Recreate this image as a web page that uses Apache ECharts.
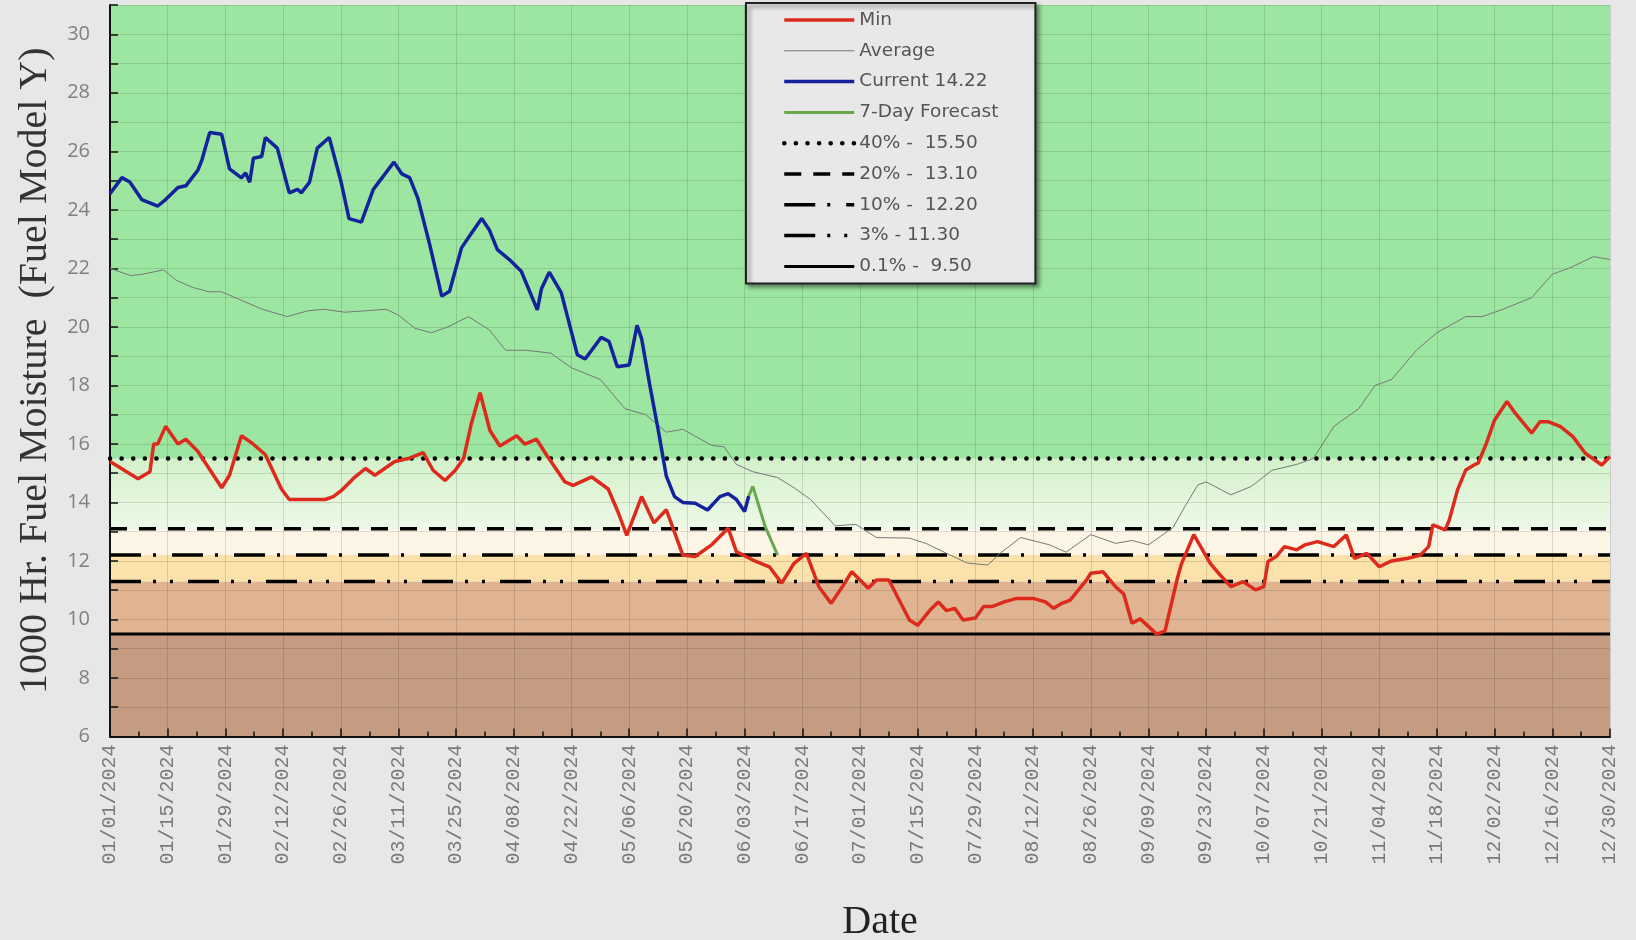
<!DOCTYPE html>
<html>
<head>
<meta charset="utf-8">
<title>1000 Hr. Fuel Moisture</title>
<script src="https://cdn.jsdelivr.net/npm/echarts@6/dist/echarts.min.js"></script>
<style>
  html, body { margin: 0; padding: 0; background: #e8e7e7; }
  #chart { width: 1636px; height: 940px; }
</style>
</head>
<body>
<div id="chart"></div>
<script>
// x = days since 01/01/2024, y = fuel moisture (%)
const minPoints = [
  [0, 15.4], [6.8, 14.81], [9.7, 15.05], [10.6, 16.0], [11.6, 16.0], [13.5, 16.6], [16.5, 16.0],
  [18.4, 16.16], [21.3, 15.75], [27.1, 14.5], [29, 14.93], [30, 15.4], [31.9, 16.28], [34.8, 15.99],
  [37.7, 15.63], [41.6, 14.46], [43.5, 14.1], [52.2, 14.1], [54.2, 14.2], [56.1, 14.4], [59, 14.81],
  [62, 15.16], [64.3, 14.93], [69.1, 15.4], [72.4, 15.5], [76, 15.7], [78.4, 15.1], [81.3, 14.75],
  [83.8, 15.1], [85.8, 15.5], [87.7, 16.7], [89.8, 17.75], [92.2, 16.46], [94.6, 15.93], [98.7, 16.28],
  [100.7, 15.99], [103.5, 16.16], [105.9, 15.63], [110.4, 14.7], [112.4, 14.58], [116.9, 14.87],
  [120.9, 14.46], [123.4, 13.63], [125.4, 12.87], [129, 14.2], [132, 13.3], [135, 13.75], [139, 12.2],
  [142, 12.15], [146, 12.55], [150, 13.12], [152, 12.32], [156, 12.03], [160, 11.8], [163, 11.24],
  [166, 11.92], [169, 12.26], [172, 11.12], [175, 10.55], [178, 11.18], [180, 11.63], [184, 11.07],
  [186, 11.35], [189, 11.35], [194, 9.98], [196, 9.8], [199, 10.32], [201, 10.6], [203, 10.3],
  [205, 10.38], [207, 9.98], [210, 10.05], [212, 10.44], [214, 10.44], [217, 10.6], [220, 10.72],
  [224, 10.72], [227, 10.6], [229, 10.38], [231, 10.55], [233, 10.66], [237, 11.35], [238, 11.58],
  [241, 11.63], [244, 11.12], [246, 10.87], [248, 9.87], [250, 10.02], [254, 9.5], [256, 9.6],
  [259, 11.4], [260, 11.9], [263, 12.9], [267, 11.92], [269, 11.58], [272, 11.12], [275, 11.29],
  [278, 11.01], [280, 11.12], [281, 11.98], [283, 12.15], [285, 12.49], [288, 12.38], [290, 12.55],
  [293, 12.66], [297, 12.49], [300, 12.89], [302, 12.09], [305, 12.26], [308, 11.8], [311, 12.0],
  [315, 12.09], [318, 12.2], [320, 12.49], [321, 13.23], [324, 13.06], [325, 13.4], [327, 14.43],
  [329, 15.11], [331, 15.28], [332, 15.34], [334, 16.02], [336, 16.82], [339, 17.45], [341, 17.05],
  [344, 16.54], [345, 16.37], [347, 16.76], [349, 16.76], [352, 16.59], [355, 16.25], [358, 15.68],
  [362, 15.28], [364, 15.57]
];

const averagePoints = [
  [0, 22.0], [5, 21.75], [8, 21.8], [13, 21.95], [16, 21.6], [20, 21.35], [24, 21.2], [27, 21.2],
  [32, 20.9], [37, 20.6], [43, 20.35], [48, 20.55], [52, 20.6], [57, 20.5], [62, 20.55], [67, 20.6],
  [70, 20.4], [74, 19.95], [78, 19.8], [82, 20.0], [87, 20.35], [92, 19.9], [96, 19.2], [101, 19.2],
  [107, 19.1], [112, 18.6], [119, 18.2], [125, 17.2], [130, 17.0], [135, 16.4], [139, 16.5],
  [146, 15.95], [149, 15.9], [152, 15.3], [156, 15.05], [162, 14.85], [166, 14.5], [170, 14.1],
  [176, 13.2], [181, 13.25], [186, 12.8], [194, 12.78], [198, 12.6], [203, 12.26], [208, 11.93],
  [213, 11.86], [216, 12.26], [221, 12.8], [228, 12.55], [232, 12.3], [238, 12.9], [244, 12.6],
  [248, 12.7], [252, 12.55], [258, 13.15], [261, 13.9], [264, 14.6], [266, 14.7], [272, 14.26],
  [277, 14.55], [282, 15.1], [288, 15.3], [292, 15.5], [297, 16.6], [303, 17.2], [307, 18.0],
  [311, 18.2], [317, 19.2], [322, 19.8], [329, 20.35], [333, 20.35], [338, 20.6], [345, 21.0],
  [350, 21.8], [354, 22.0], [360, 22.4], [364, 22.3]
];

const currentPoints = [
  [0, 24.55], [2.9, 25.1], [4.8, 24.95], [7.7, 24.35], [11.6, 24.13], [13.5, 24.35], [16.5, 24.76],
  [18.4, 24.82], [21.3, 25.35], [22.3, 25.7], [24.2, 26.64], [27.1, 26.58], [29, 25.4], [31.9, 25.09],
  [32.9, 25.26], [33.9, 24.94], [34.8, 25.76], [36.8, 25.82], [37.7, 26.47], [40.6, 26.11],
  [43.5, 24.58], [45.5, 24.7], [46.4, 24.58], [48.4, 24.94], [50.3, 26.11], [53.2, 26.47],
  [56.1, 24.94], [58, 23.7], [61, 23.58], [63.9, 24.7], [68.9, 25.63], [70.8, 25.23], [72.7, 25.1],
  [74.7, 24.4], [77.6, 22.8], [80.5, 21.05], [82.4, 21.22], [85.3, 22.7], [87.2, 23.1], [90.2, 23.7],
  [92.1, 23.3], [94, 22.64], [96.9, 22.3], [99.8, 21.9], [103.7, 20.58], [104.7, 21.3], [106.6, 21.87],
  [109.5, 21.17], [113.4, 19.05], [115.3, 18.9], [119.2, 19.64], [121.1, 19.5], [123.1, 18.64],
  [126, 18.7], [127.9, 20.05], [129, 19.6], [131, 18.0], [133, 16.5], [135, 14.9], [137, 14.2],
  [139, 14.0], [142, 13.97], [145, 13.74], [148, 14.2], [150, 14.3], [152, 14.1], [154, 13.69],
  [155, 14.22]
];

const forecastPoints = [[155, 14.22], [156, 14.55], [159, 13.17], [162, 12.2]];

const thresholdNames = ['40% -  15.50', '20% -  13.10', '10% -  12.20', '3% - 11.30', '0.1% -  9.50'];
const thresholdValues = [15.5, 13.1, 12.2, 11.3, 9.5];

const bandEdges = [6, 9.5, 11.3, 12.2, 13.1, 15.5, 31];

const seriesNames = ['Min', 'Average', 'Current 14.22', '7-Day Forecast'];

const chart = echarts.init(document.getElementById('chart'));

const yearStart = Date.UTC(2024, 0, 1);
const pad = n => (n < 10 ? '0' : '') + n;
function dayLabel(d) {
  const dt = new Date(yearStart + d * 864e5);
  return pad(dt.getUTCMonth() + 1) + '/' + pad(dt.getUTCDate()) + '/2024';
}

const bandColors = [
  '#c59c82',
  '#e1b491',
  '#fbe2aa',
  '#fdf6e6',
  new echarts.graphic.LinearGradient(0, 0, 0, 1, [
    { offset: 0, color: '#d3f1cb' },
    { offset: 1, color: '#eef9e7' }
  ]),
  '#9de6a1'
];

const thresholdStyles = [
  { type: [0.1, 11.5], cap: 'round', width: 4.5 },
  { type: [17, 12], width: 3.5 },
  { type: [31, 12, 3, 16], width: 3.5 },
  { type: [31, 12, 3, 14, 3, 15], width: 3.5 },
  { type: 'solid', width: 3 }
];

const gridLine = { color: 'rgba(0,0,0,0.12)', width: 1 };

const series = [
  {
    name: 'bands',
    type: 'line',
    data: [],
    silent: true,
    markArea: {
      silent: true,
      z: 0,
      data: bandColors.map((c, i) => [
        { yAxis: bandEdges[i], itemStyle: { color: c } },
        { yAxis: bandEdges[i + 1] }
      ])
    }
  },
  {
    name: 'Min', type: 'line', data: minPoints, symbol: 'none', z: 4,
    lineStyle: { color: '#dc2b1c', width: 3.5 }, itemStyle: { color: '#dc2b1c' }
  },
  {
    name: 'Average', type: 'line', data: averagePoints, symbol: 'none', z: 4,
    lineStyle: { color: '#777', width: 1 }, itemStyle: { color: '#777' }
  },
  {
    name: 'Current 14.22', type: 'line', data: currentPoints, symbol: 'none', z: 4,
    lineStyle: { color: '#13239c', width: 3.5 }, itemStyle: { color: '#13239c' }
  },
  {
    name: '7-Day Forecast', type: 'line', data: forecastPoints, symbol: 'none', z: 4,
    lineStyle: { color: '#6aa84f', width: 3 }, itemStyle: { color: '#6aa84f' }
  }
];

thresholdValues.forEach((v, i) => {
  series.push({
    name: thresholdNames[i],
    type: 'line',
    data: [[0, v], [364, v]],
    symbol: 'none',
    silent: true,
    z: 3,
    lineStyle: Object.assign({ color: '#000' }, thresholdStyles[i]),
    itemStyle: { color: '#000' }
  });
});

chart.setOption({
  animation: false,
  backgroundColor: '#e8e7e7',
  grid: { left: 110, right: 26, top: 5, bottom: 203.5, containLabel: false, outerBoundsMode: 'none' },
  legend: {
    orient: 'vertical',
    left: 746,
    top: 3,
    data: seriesNames.concat(thresholdNames),
    selectedMode: false,
    itemWidth: 70,
    itemHeight: 14,
    itemGap: 10.8,
    padding: [7, 37, 7, 36],
    backgroundColor: '#e8e8e8',
    borderColor: '#222',
    borderWidth: 2,
    borderRadius: 0,
    shadowBlur: 4,
    shadowColor: 'rgba(0,0,0,0.45)',
    shadowOffsetX: 3,
    shadowOffsetY: 3,
    itemStyle: { opacity: 0 },
    lineStyle: { width: 'inherit' },
    textStyle: { fontFamily: 'DejaVu Sans', fontSize: 18.5, color: '#555', lineHeight: 20 }
  },
  xAxis: {
    type: 'value',
    min: 0,
    max: 364,
    interval: 14,
    z: 2,
    axisLine: { lineStyle: { color: '#111', width: 2 } },
    axisTick: { show: true, inside: true, length: 8, lineStyle: { color: '#111', width: 1.5 } },
    minorTick: { show: true, splitNumber: 2, length: 5, lineStyle: { color: '#111', width: 1.5 } },
    splitLine: { show: true, lineStyle: gridLine },
    axisLabel: {
      rotate: 90, margin: 8, color: '#7a7a7a',
      fontFamily: 'Liberation Mono', fontSize: 20, formatter: dayLabel
    },
    name: 'Date',
    nameLocation: 'middle',
    nameGap: 166,
    nameTextStyle: { fontFamily: 'Liberation Serif', fontSize: 40, color: '#222', padding: [0, 0, 0, 40] }
  },
  yAxis: {
    type: 'value',
    min: 6,
    max: 31,
    interval: 1,
    z: 2,
    axisLine: { show: true, lineStyle: { color: '#111', width: 2 } },
    axisTick: { show: true, inside: true, length: 8, lineStyle: { color: '#111', width: 1.5 } },
    splitLine: { show: true, lineStyle: gridLine },
    axisLabel: {
      margin: 20, color: '#808080', fontFamily: 'Open Sans', fontSize: 20,
      formatter: v => (v % 2 === 0 ? String(v) : '')
    },
    name: '1000 Hr. Fuel Moisture  (Fuel Model Y)',
    nameLocation: 'middle',
    nameGap: 55,
    nameTextStyle: { fontFamily: 'Liberation Serif', fontSize: 40, color: '#333' }
  },
  series: series
});
</script>
</body>
</html>
